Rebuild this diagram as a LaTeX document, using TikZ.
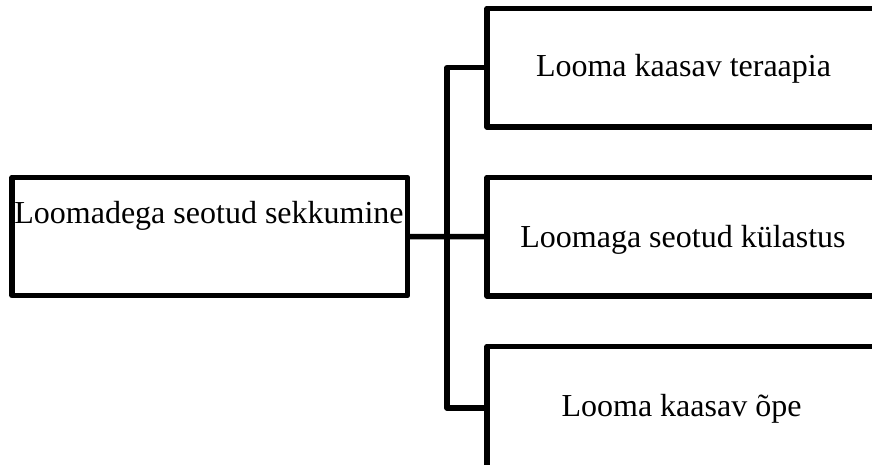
\documentclass[tikz,border=0pt]{standalone}
\usepackage{fontspec}
\setmainfont{Liberation Serif}
\begin{document}
\begin{tikzpicture}[x=1pt,y=-1pt,
  box/.style={draw, rectangle, line width=5.5pt, line join=round, outer sep=0pt, inner sep=0pt},
  conn/.style={draw, line width=5.5pt, line join=round},
  lbl/.style={anchor=base, inner sep=0pt, font=\fontsize{32}{38}\selectfont}]
\useasboundingbox (0,0) rectangle (872,465);
\clip (0,0) rectangle (872,465);
\node[box, minimum width=395.5pt, minimum height=118pt] (src) at (209.75,236.5) {};
\node[box, minimum width=390pt, minimum height=118.5pt] (b1) at (682,67.75) {};
\node[box, minimum width=390pt, minimum height=118.5pt] (b2) at (682,236.75) {};
\node[box, minimum width=390pt, minimum height=123pt] (b3) at (682,408) {};
\coordinate (jt) at (447,67.75);
\coordinate (jb) at (447,408);
\draw[conn] (src.east) -- (b2.west);
\draw[conn] (b1.west) -- (jt) -- (jb) -- (b3.west);
\node[lbl] (t0) at (209,223) {Loomadega seotud sekkumine};
\node[lbl] (t1) at (683.5,77) {Looma kaasav teraapia};
\node[lbl] (t2) at (683,247) {Loomaga seotud külastus};
\node[lbl] (t3) at (681.5,416) {Looma kaasav õpe};
\end{tikzpicture}
\end{document}
